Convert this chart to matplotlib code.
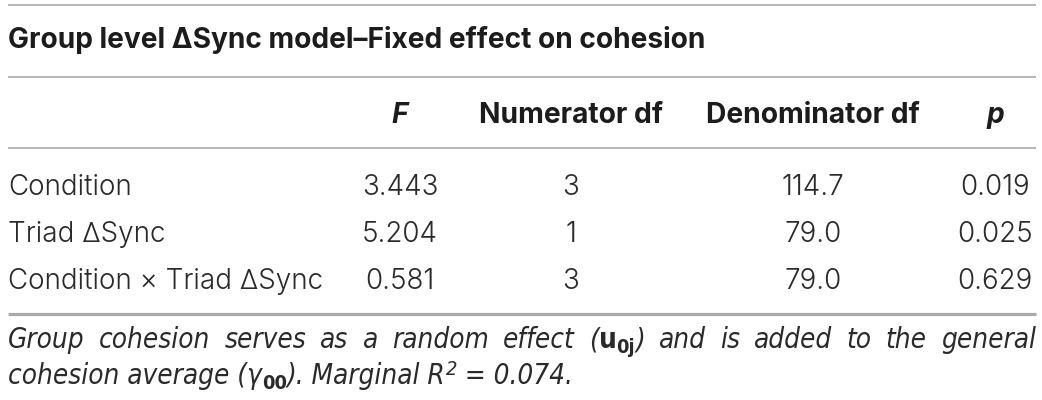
"""Group level ΔSync model – fixed effect on cohesion, drawn as a table."""
import matplotlib

matplotlib.use("Agg")
import matplotlib.pyplot as plt
from matplotlib import font_manager as fm
from matplotlib.font_manager import FontProperties

TITLE = "Group level \u0394Sync model\u2013Fixed effect on cohesion"
HEADERS = ["F", "Numerator df", "Denominator df", "p"]
ROW_LABELS = ["Condition", "Triad \u0394Sync", "Condition \u00d7 Triad \u0394Sync"]
F_VALUES = ["3.443", "5.204", "0.581"]
NUM_DF = ["3", "1", "3"]
DEN_DF = ["114.7", "79.0", "79.0"]
P_VALUES = ["0.019", "0.025", "0.629"]
MARGINAL_R2 = "0.074"

W, H = 1042, 400
INK, TEXT, RULE = "#1c1c1c", "#2a2a2a", "#aaaaaa"


def find_font(names, weight=400, italic=False, narrow=False):
    """Path of the first installed font matching one of the names."""
    for name in names:
        opts = []
        for f in fm.fontManager.ttflist:
            if f.name != name or (f.style != "normal") != italic:
                continue
            is_narrow = f.stretch not in ("normal", 500) or any(
                k in f.fname.lower() for k in ("narrow", "condensed"))
            if is_narrow == narrow:
                opts.append(f)
        if opts:
            return min(opts, key=lambda f: abs(int(f.weight) - weight)).fname
    return None


SANS = ["Inter", "Liberation Sans", "DejaVu Sans"]
NARROW = ["Liberation Sans Narrow", "DejaVu Sans Condensed", "DejaVu Sans",
          "Roboto Condensed", "Noto Sans Condensed", "Noto Sans", "Open Sans"]


def fp(path, fallback, size, **kw):
    if path:
        return FontProperties(fname=path, size=size)
    return FontProperties(family=fallback, size=size, **kw)


bold_path = find_font(SANS, 700)
bold_it_path = find_font(SANS, 700, italic=True)
body_path = find_font(SANS, 300)
note_it_path = find_font(NARROW, 300, italic=True, narrow=True) or find_font(["Liberation Sans"], 400, italic=True)
note_bf_path = find_font(NARROW, 700, narrow=True) or find_font(["Liberation Sans"], 700)

fig = plt.figure(figsize=(W / 100, H / 100), dpi=100)
ax = fig.add_axes([0, 0, 1, 1])
ax.set_xlim(0, W)
ax.set_ylim(H, 0)
ax.axis("off")

LEFT, RIGHT = 8, 1036
for y, lw in [(5, 1.2), (77, 1.2), (148, 1.2), (314, 2.3)]:
    ax.plot([LEFT, RIGHT], [y, y], color=RULE, lw=lw, solid_capstyle="butt")

title_fp = fp(bold_path, "sans-serif", 20.2, weight="bold")
ax.text(LEFT, 48, TITLE, fontproperties=title_fp, color=INK, ha="left", va="baseline")

col_x = [400, 571, 813, 995]
head_fp = fp(bold_path, "sans-serif", 20.3, weight="bold")
head_it = fp(bold_it_path, "sans-serif", 20.3, weight="bold", style="italic")
for x, h in zip(col_x, HEADERS):
    ax.text(x, 123, h, fontproperties=head_it if len(h) == 1 else head_fp,
            color=INK, ha="center", va="baseline")

body_fp = fp(body_path, "sans-serif", 20)
row_y = [195, 242, 289]
for y, lab, f, n, d, p in zip(row_y, ROW_LABELS, F_VALUES, NUM_DF, DEN_DF, P_VALUES):
    ax.text(LEFT, y, lab, fontproperties=body_fp, color=TEXT, ha="left", va="baseline")
    for x, v in zip(col_x, [f, n, d, p]):
        ax.text(x, y, v, fontproperties=body_fp, color=TEXT, ha="center", va="baseline")

# ---- footnote, built from runs so sub/superscripts use the right faces
NOTE_SIZE = 20
n_it = fp(note_it_path, "sans-serif", NOTE_SIZE, style="italic")
n_bf = fp(note_bf_path, "sans-serif", NOTE_SIZE, weight="bold")
n_bf_sub = fp(note_bf_path, "sans-serif", NOTE_SIZE * 0.72, weight="bold")
n_sup = fp(note_it_path, "sans-serif", NOTE_SIZE * 0.72, style="italic")

fig.canvas.draw()
renderer = fig.canvas.get_renderer()


def width_of(text, prop):
    t = ax.text(0, 0, text, fontproperties=prop)
    w = t.get_window_extent(renderer).width
    t.remove()
    return w


def draw_runs(x, y, runs, draw=True):
    """runs: (text, fontprops, baseline shift in px). Returns the total width."""
    for text, prop, dy in runs:
        if draw:
            ax.text(x, y + dy, text, fontproperties=prop, color=TEXT,
                    ha="left", va="baseline")
        x += width_of(text, prop)
    return x


line1 = [[(w, n_it, 0)] for w in "Group cohesion serves as a random effect".split()]
line1.append([("(", n_it, 0), ("u", n_bf, 0), ("0j", n_bf_sub, 5), (")", n_it, 0)])
line1 += [[(w, n_it, 0)] for w in "and is added to the general".split()]

widths = [draw_runs(0, 0, word, draw=False) for word in line1]
gap = (RIGHT - LEFT - sum(widths)) / (len(line1) - 1)
x = LEFT
for word, wd in zip(line1, widths):
    draw_runs(x, 348, word)
    x += wd + gap

line2 = [("cohesion average (\u03b3", n_it, 0), ("00", n_bf_sub, 5),
         ("). Marginal R", n_it, 0), ("2", n_sup, -9),
         (" = " + MARGINAL_R2 + ".", n_it, 0)]
draw_runs(LEFT, 384, line2)

fig.savefig("out.png", dpi=100)
